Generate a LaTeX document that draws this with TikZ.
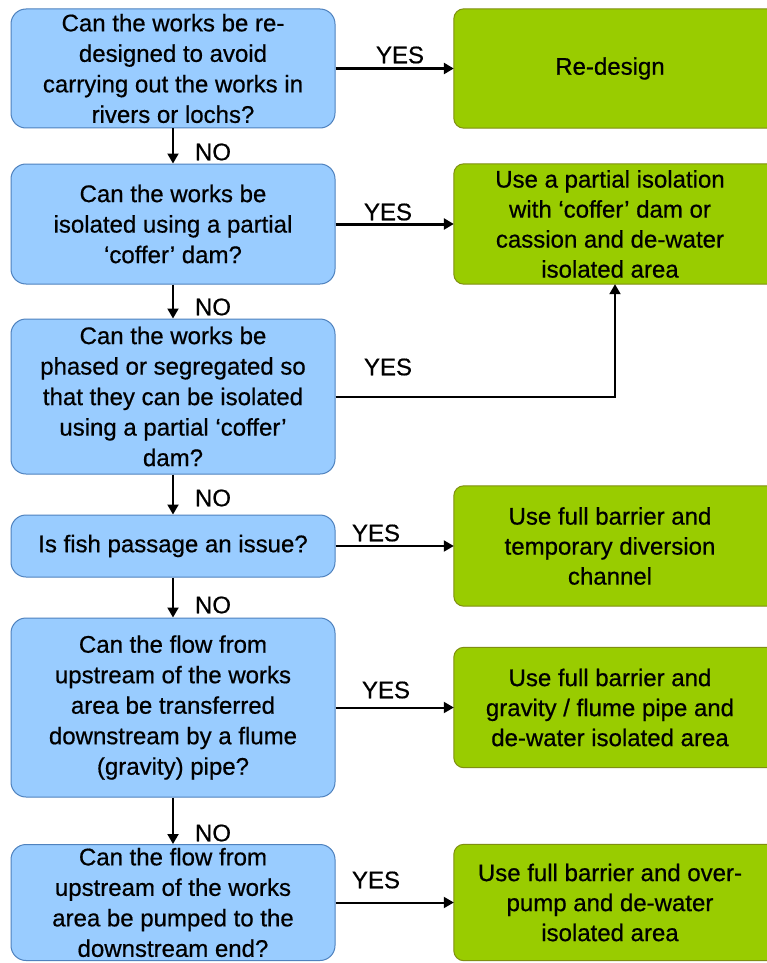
\documentclass[tikz,border=0pt]{standalone}
\usepackage{fontspec}
\setmainfont[FakeBold=0.6,UprightFeatures={FakeBold=0.6}]{Liberation Sans}
\usetikzlibrary{arrows.meta,backgrounds}
\definecolor{qfill}{HTML}{99CCFF}
\definecolor{qdraw}{HTML}{4F82BE}
\definecolor{afill}{HTML}{99CC00}
\definecolor{adraw}{HTML}{7F8F10}
\begin{document}
\begin{tikzpicture}[x=1pt,y=-1pt,
  qbox/.style={draw=qdraw, line width=1pt, fill=qfill, rounded corners=15pt,
    minimum width=324pt, inner sep=0pt, align=center,
    font=\fontsize{24}{30.5}\selectfont},
  abox/.style={minimum width=312pt, inner sep=0pt, align=center,
    font=\fontsize{24}{30}\selectfont},
  aback/.style={draw=adraw, line width=1pt, fill=afill, rounded corners=10pt},
  arr/.style={draw=black, line width=2pt, -{Triangle[length=10pt,width=11pt]}},
  lbl/.style={font=\fontsize{24}{28}\selectfont, inner sep=0pt}]
\useasboundingbox (0,0) rectangle (767,963);
\begin{scope}[on background layer]
\fill[white] (0,0) rectangle (767,963);
\end{scope}
% questions
\node[qbox, minimum height=119pt] (b1) at (173,68.5) {Can the works be re-\\designed to avoid\\carrying out the works in\\rivers or lochs?};
\node[qbox, minimum height=120pt] (b2) at (173,224) {Can the works be\\isolated using a partial\\‘coffer’ dam?};
\node[qbox, minimum height=155pt] (b3) at (173,396.5) {Can the works be\\phased or segregated so\\that they can be isolated\\using a partial ‘coffer’\\dam?};
\node[qbox, minimum height=62pt] (b4) at (173,546) {Is fish passage an issue?};
\node[qbox, minimum height=179pt] (b5) at (173,707.5) {Can the flow from\\upstream of the works\\area be transferred\\downstream by a flume\\(gravity) pipe?};
\node[qbox, minimum height=116pt] (b6) at (173,902.5) {Can the flow from\\upstream of the works\\area be pumped to the\\downstream end?};
% answers
\node[abox, minimum height=119pt] (g1) at (610,68.5) {Re-design};
\node[abox, minimum height=120pt] (g2) at (610,224) {Use a partial isolation\\with ‘coffer’ dam or\\cassion and de-water\\isolated area};
\node[abox, minimum height=120pt] (g3) at (610,546) {Use full barrier and\\temporary diversion\\channel};
\node[abox, minimum height=120pt] (g4) at (610,707.5) {Use full barrier and\\gravity / flume pipe and\\de-water isolated area};
\node[abox, minimum height=116pt] (g5) at (610,902.5) {Use full barrier and over-\\pump and de-water\\isolated area};
\begin{scope}[on background layer]
\foreach \g in {g1,g2,g3,g4,g5}
  \path[aback] (\g.north west) rectangle ([xshift=16pt]\g.south east);
\end{scope}
% YES connectors
\draw[arr, line width=3pt] (b1.east) -- (b1.east -| g1.west);
\draw[arr, line width=3pt] (b2.east) -- (b2.east -| g2.west);
\draw[arr] (b3.east) -| ([xshift=5pt]g2.south);
\draw[arr] (b4.east) -- (b4.east -| g3.west);
\draw[arr] (b5.east) -- (b5.east -| g4.west);
\draw[arr] (b6.east) -- (b6.east -| g5.west);
% NO connectors
\draw[arr] (b1.south) -- (b2.north);
\draw[arr] (b2.south) -- (b3.north);
\draw[arr] (b3.south) -- (b4.north);
\draw[arr] (b4.south) -- (b5.north);
\draw[arr] (b5.south) -- (b6.north);
% labels
\node[lbl] (y1) at (400,55) {YES};
\node[lbl] (y2) at (388,212) {YES};
\node[lbl] (y3) at (388,367) {YES};
\node[lbl] (y4) at (376,533) {YES};
\node[lbl] (y5) at (386,690) {YES};
\node[lbl] (y6) at (376,880) {YES};
\node[lbl] (n1) at (213,152) {NO};
\node[lbl] (n2) at (213,307) {NO};
\node[lbl] (n3) at (213,498) {NO};
\node[lbl] (n4) at (213,605) {NO};
\node[lbl] (n5) at (213,833) {NO};
\end{tikzpicture}
\end{document}
